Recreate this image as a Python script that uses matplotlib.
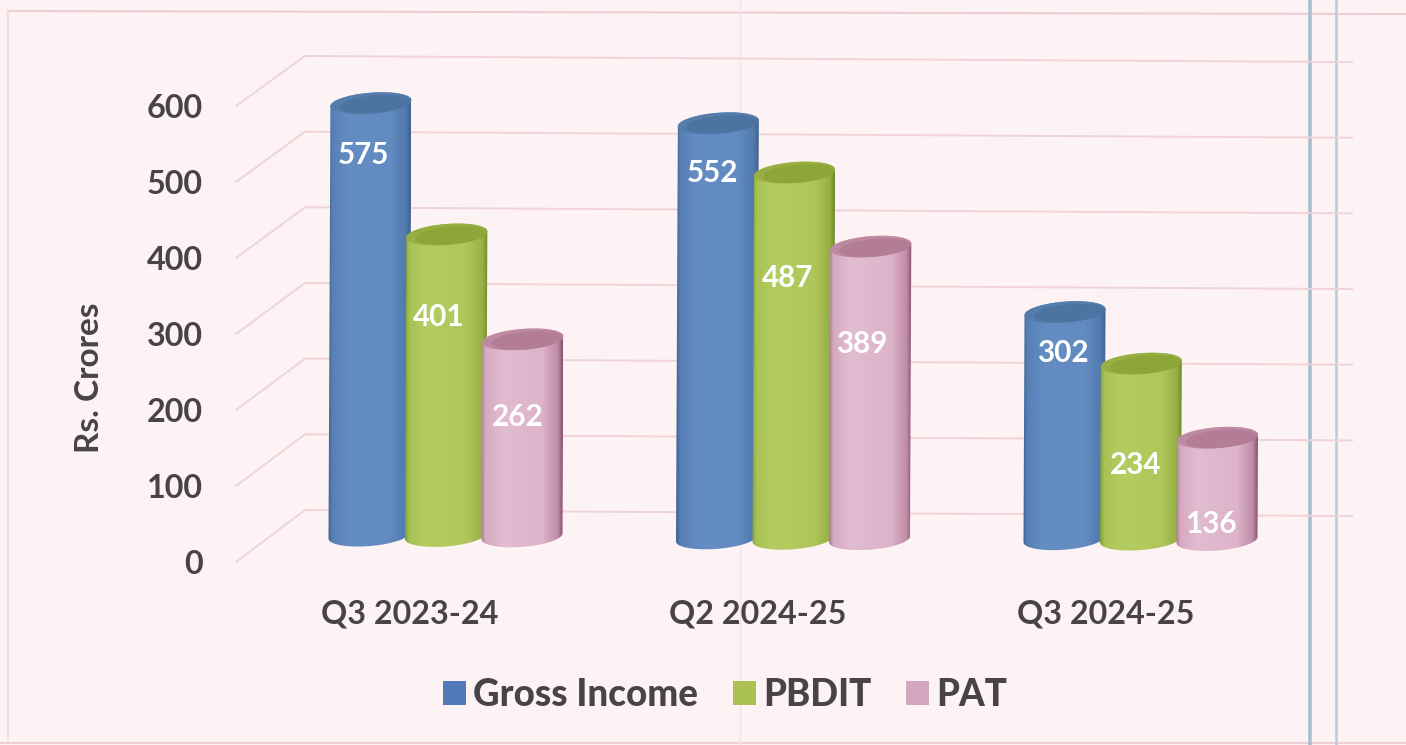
import numpy as np
import matplotlib
matplotlib.use("Agg")
import matplotlib.pyplot as plt
from matplotlib.colors import LinearSegmentedColormap
from matplotlib.patches import ConnectionPatch, Patch, PathPatch
from matplotlib.path import Path
from matplotlib.lines import Line2D

categories = ["Q3 2023-24", "Q2 2024-25", "Q3 2024-25"]
series_names = ["Gross Income", "PBDIT", "PAT"]
gross_income = [575, 552, 302]
pbdit = [401, 487, 234]
pat = [262, 389, 136]
y_ticks = [0, 100, 200, 300, 400, 500, 600]

W, H = 1406, 745
plt.rcParams["font.family"] = ["Lato", "DejaVu Sans"]
BG = "#FEF3F4"
GRID = "#EFD3D8"
TXT = "#484446"

fig = plt.figure(figsize=(W / 100, H / 100), dpi=100, facecolor=BG)


def box(left, right, top, bottom):
    return [left / W, 1 - bottom / H, (right - left) / W, (bottom - top) / H]


# back wall
ax_wall = fig.add_axes(box(305, 1352, 56, 510), zorder=1)
ax_wall.set_xlim(0, 1)
ax_wall.set_ylim(0, 600)
ax_wall.axis("off")
for v in y_ticks:
    ax_wall.plot([0, 1], [v, v - 8], color=GRID, lw=1.4, clip_on=False)

# front plane: value ticks, category ticks
ax_front = fig.add_axes(box(236, 1352, 106, 562), zorder=1)
ax_front.patch.set_visible(False)
ax_front.set_ylim(0, 600)
ax_front.set_xlim((236 - 410) / 348, (1352 - 410) / 348)
for s in ax_front.spines.values():
    s.set_visible(False)
ax_front.set_yticks(y_ticks)
ax_front.set_yticklabels([str(v) for v in y_ticks], fontsize=23.3, fontweight="bold", color=TXT)
ax_front.set_xticks(range(len(categories)))
ax_front.set_xticklabels(categories, fontsize=23.3, fontweight="bold", color=TXT)
ax_front.tick_params(axis="y", length=0, pad=24)
ax_front.tick_params(axis="x", length=0, pad=27)
ax_front.set_ylabel("Rs. Crores", fontsize=24, fontweight="bold", color=TXT)
ax_front.yaxis.set_label_coords((104 - 236) / (1352 - 236), 0.404)

for v in y_ticks:
    fig.add_artist(ConnectionPatch(
        (0, v), (0, v), coordsA=ax_front.get_yaxis_transform(),
        coordsB=ax_wall.get_yaxis_transform(), color=GRID, lw=1.4, zorder=0.5))

# cylinders
ax = fig.add_axes([0, 0, 1, 1], zorder=2)
ax.patch.set_visible(False)
XU = 347.5      # px per category
YU = 0.752      # px per value unit
X0, Y0 = 445.5, 536
ax.set_xlim(-X0 / XU, (W - X0) / XU)
ax.set_ylim(-(H - Y0) / YU, Y0 / YU)
ax.axis("off")

RX = 40.5 / XU
RY = 10.5 / YU
SKEW = 3.0 / YU
LEAN = 2.0 / XU / 600
TILT = 2.4
OFFS = [-76.5 / XU, 0, 76.5 / XU]

stops = [0.0, 0.05, 0.25, 0.75, 0.94, 1.0]
cmaps = [
    ["#3F6493", "#5880B6", "#648DC3", "#628BC1", "#517AAF", "#3F6290"],
    ["#83A03A", "#A8C254", "#B5CC62", "#AFC65A", "#97B044", "#71892C"],
    ["#A87A94", "#D6AAC1", "#E2BCD1", "#DDB4CA", "#C08CA7", "#875270"],
]
top_outer = ["#547DAB", "#97AE42", "#BE8AA2"]
top_inner = ["#4D74A1", "#8EA538", "#B37D96"]

# pixel offsets of the value labels from the top of each cylinder
label_off = [
    [(-8, -52), (-6, -50), (-2, -41)],
    [(-8, -83), (-7, -105), (-6, -101)],
    [(-5, -78), (-9, -97), (-7, -86)],
]


def ell(cx, cy, rx, ry, t):
    return np.c_[cx + rx * np.cos(t), cy + ry * np.sin(t) + SKEW * np.cos(t)]


series = [gross_income, pbdit, pat]
for s, vals in enumerate(series):
    cm = LinearSegmentedColormap.from_list(series_names[s], list(zip(stops, cmaps[s])))
    for i, v in enumerate(vals):
        cx = i + OFFS[s]
        base = -TILT * (i + OFFS[s]) - (1.3 if i == 1 else 0)
        top = base + v
        tx = cx + LEAN * v
        bottom_arc = ell(cx, base, RX, RY, np.linspace(np.pi, 2 * np.pi, 50))
        top_arc = ell(tx, top, RX, RY, np.linspace(0, np.pi, 50))
        verts = np.vstack([bottom_arc, top_arc, bottom_arc[:1]])
        body = PathPatch(Path(verts, closed=False), fc="none", ec="none", zorder=3 + s)
        ax.add_patch(body)
        x0 = min(cx, tx) - RX
        x1 = max(cx, tx) + RX
        im = ax.imshow(np.linspace(0, 1, 128)[None, :], cmap=cm, aspect="auto",
                       extent=[x0, x1, base - RY - SKEW, top + RY + SKEW],
                       zorder=3 + s, interpolation="bilinear")
        im.set_clip_path(body)
        t = np.linspace(0, 2 * np.pi, 100)
        ax.fill(*ell(tx, top, RX, RY, t).T, color=top_outer[s], lw=0, zorder=3 + s)
        ax.fill(*ell(tx + 0.10 * RX, top - 0.10 * RY, 0.88 * RX, 0.85 * RY, t).T,
                color=top_inner[s], lw=0, zorder=3 + s)
        ax.annotate(str(v), (tx, top), xytext=label_off[s][i], textcoords="offset pixels",
                    ha="center", va="center", color="white", fontsize=21.3,
                    fontweight="bold", zorder=10)

ax.set_xlim(-X0 / XU, (W - X0) / XU)
ax.set_ylim(-(H - Y0) / YU, Y0 / YU)

# legend
handles = [Patch(color=c, lw=0) for c in ["#4F79B8", "#ABC253", "#D5A6C0"]]
leg = fig.legend(handles, series_names, ncol=3, frameon=False,
                 loc="center", bbox_to_anchor=(725 / W, 1 - 695 / H),
                 prop={"size": 26.5, "weight": 900}, labelcolor=TXT,
                 handlelength=0.62, handleheight=0.62, handletextpad=0.2,
                 columnspacing=0.95, borderpad=0, borderaxespad=0)

# scanned page rules
def rule(xs, ys, color, lw):
    fig.add_artist(Line2D(np.array(xs) / W, 1 - np.array(ys) / H, color=color, lw=lw, zorder=0.4))

rule([8, W], [11, 14], "#EBCDD3", 1.5)
rule([8, 8], [11, 743], "#F3DBE0", 1.5)
rule([0, W], [743, 743], "#EDCFD5", 1.5)
rule([740, 740], [0, H], "#F6E3E7", 1.0)
rule([1310, 1310], [0, H], "#A8C0CE", 2.6)
rule([1336, 1336], [0, H], "#B5CCDC", 1.8)

fig.savefig("out.png", dpi=100, facecolor=BG)
